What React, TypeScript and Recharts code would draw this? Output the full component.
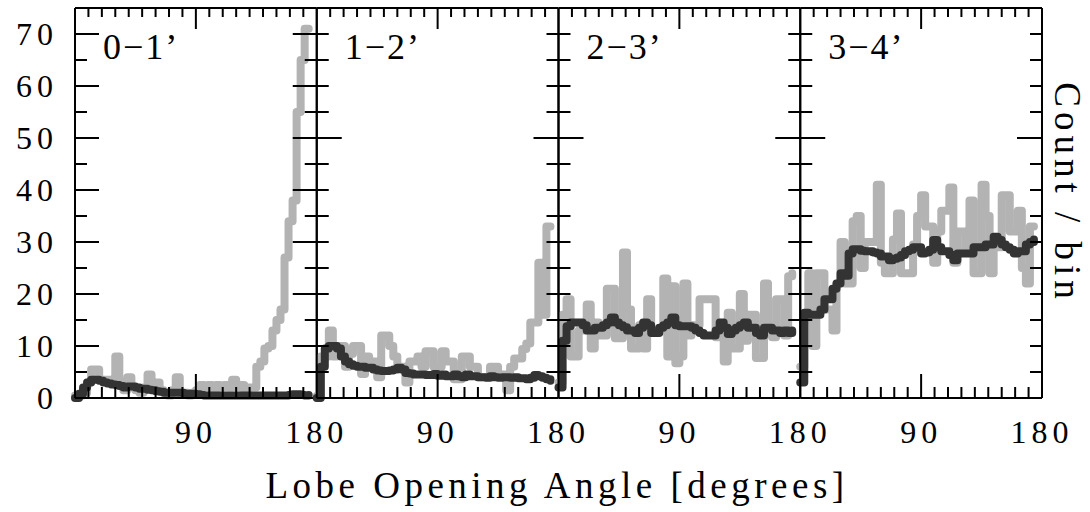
import React from "react";
import { LineChart, Line, XAxis, YAxis } from "recharts";

// bin start (degrees), 3 degree bins
const BIN_START = [
  0, 3, 6, 9, 12, 15, 18, 21, 24, 27, 30, 33, 36, 39, 42, 45, 48, 51, 54, 57,
  60, 63, 66, 69, 72, 75, 78, 81, 84, 87, 90, 93, 96, 99, 102, 105, 108, 111,
  114, 117, 120, 123, 126, 129, 132, 135, 138, 141, 144, 147, 150, 153, 156,
  159, 162, 165, 168, 171, 174,
];

const PANEL_NAMES = ["0\u22121\u2019", "1\u22122\u2019", "2\u22123\u2019", "3\u22124\u2019"];

// gray = raw histogram, dark = smoothed
const GRAY_0_1 = [
  0.5, 0.5, 1, 3, 5.5, 5.5, 3.5, 3.5, 3.5, 3, 8, 3, 1.5, 4, 2, 1.5, 1, 2, 4.5, 2,
  3, 1.5, 1, 0.5, 1.5, 4, 1, 1, 0.5, 1, 1.5, 2.5, 2, 2.5, 1.5, 2.5, 2, 2.5, 2, 3.5,
  2, 2.5, 1.5, 2, 2, 6, 7, 9.5, 10, 13, 15, 17, 27, 34, 38, 55, 65, 71, 71,
];
const DARK_0_1 = [
  0, 0.8, 2, 3, 3.5, 3.5, 3.3, 3, 2.8, 2.6, 2.5, 2.3, 2, 2.2, 2.2, 2, 1.8, 1.8, 1.6, 1.5,
  1.3, 1.2, 1, 1, 1, 1, 1, 0.8, 0.8, 0.8, 0.7, 0.6, 0.5, 0.5, 0.5, 0.5, 0.5, 0.5, 0.5, 0.5,
  0.5, 0.5, 0.5, 0.5, 0.5, 0.5, 0.5, 0.5, 0.5, 0.5, 0.5, 0.5, 0.5, 0.6, 0.7, 0.7, 0.6, 0.5, 0.6,
];
const GRAY_1_2 = [
  0.4, 8, 8, 13, 8, 10, 10, 6, 8.5, 10, 10, 4.6, 8, 7, 7, 4, 12, 12, 10, 8,
  6, 6, 3, 7, 7, 8, 6, 9, 9, 6, 6, 9, 7, 7, 3.6, 3.6, 8, 8, 6, 6,
  4, 4, 4, 6, 6, 4.5, 4.5, 1.5, 6, 7.6, 7.6, 9.4, 10.5, 14.5, 14.5, 26, 16, 33, 33,
];
const DARK_1_2 = [
  0, 6, 9.5, 10, 10, 9.5, 8, 7, 6.5, 6.2, 6, 6, 5.8, 5.8, 5.5, 5.3, 5.2, 5.2, 5.3, 5.5,
  5.8, 5.5, 4.8, 4.7, 4.5, 4.5, 4.5, 4.4, 4.4, 4.6, 4.3, 4.5, 4.2, 4.2, 4.5, 4.2, 4, 4.5, 4.2, 4.2,
  4, 4, 3.9, 4.2, 4, 3.9, 4, 4, 3.9, 4, 3.8, 3.8, 3.6, 3.9, 4.4, 4.2, 3.9, 3.6, 3.3,
];
const GRAY_2_3 = [
  3, 16, 19, 8, 8, 13, 13, 18, 9.5, 14.5, 12, 12, 21, 21, 11.5, 11.5, 28, 17, 9.5, 9.5,
  14, 9.5, 19, 12.5, 13, 13, 23, 8, 21.5, 6.7, 8, 22, 12, 14, 14, 19, 19, 19, 19, 11.7,
  11.7, 7, 16.4, 9.5, 9.5, 20, 11, 16, 16, 7.7, 7.7, 22, 12.7, 11.7, 19, 19, 12, 23.4, 24,
];
const DARK_2_3 = [
  2, 11, 13.8, 14.5, 14.5, 14.5, 14, 13, 13, 13.5, 13.5, 14, 14.5, 15.5, 14.5, 14, 13.6, 13, 13, 12.5,
  13.5, 14.5, 14, 12.5, 12.5, 13.5, 14, 14.5, 15.5, 14, 13.8, 13.8, 13.8, 13.5, 13, 12.5, 12, 12, 12, 13,
  14.5, 13.5, 12.3, 13, 13.5, 14, 14.5, 13.5, 13.5, 12.5, 12, 13.5, 13.5, 13, 13, 12.5, 13, 12.5, 13,
];
const GRAY_3_4 = [
  6, 15, 24, 10, 24, 24, 17, 17, 13, 22, 30, 22, 22, 34, 35, 25, 30, 30, 30, 41,
  26, 24, 24, 30.5, 35.5, 24, 24, 24, 29.5, 35, 39, 33, 33, 26, 32, 36, 36, 40.5, 26, 32,
  32, 28.5, 38, 24, 24, 41, 35, 24, 29, 29, 39, 39, 32, 32, 36, 25, 22, 33, 33,
];
const DARK_3_4 = [
  3, 16.4, 16, 16, 16, 17, 19, 19, 21, 22, 24, 23.5, 27.8, 28.6, 28.6, 28.3, 28.2, 28.2, 28, 27.8,
  27.2, 27.2, 26.5, 26.8, 27, 27.5, 28.2, 28.5, 29, 29, 27.8, 28, 28.5, 30.4, 29, 28.2, 28.2, 27.5, 26.5, 27.8,
  27.8, 27.8, 27.8, 29, 29, 29, 29.5, 29.5, 31, 30.4, 29.5, 29, 28.5, 27.8, 28.2, 28.2, 29.5, 30, 30.5,
];

const GRAY_SERIES = [GRAY_0_1, GRAY_1_2, GRAY_2_3, GRAY_3_4];
const DARK_SERIES = [DARK_0_1, DARK_1_2, DARK_2_3, DARK_3_4];

const X_TICKS = [10, 20, 30, 40, 50, 60, 70, 80, 90, 100, 110, 120, 130, 140, 150, 160, 170];
const X_MAJOR = [90];
const X_LABEL_TICKS = [90, 180];
const Y_TICKS = [5, 10, 15, 20, 25, 30, 35, 40, 45, 50, 55, 60, 65, 70];
const Y_LABEL_TICKS = [0, 10, 20, 30, 40, 50, 60, 70];
const Y_MAJOR_FIRST = [10, 20, 30, 40, 50, 60, 70];
const Y_MAJOR_OTHER = [50];

const FONT = "'Liberation Serif', serif";
const W = 1090;
const H = 512;
const PLOT_TOP = 8;
const PLOT_BOTTOM = 398;
const PLOT_LEFT = 75;
const PANEL_W = 241.75;
const XLAB_H = 40;
const YLAB_W = 60;

const axisStroke = { stroke: "#000", strokeWidth: 2 };

// inward tick marks, length depends on whether the value is a major tick
const inwardTick = (side: string, major: number[], minorLen: number, majorLen: number) => (props: any) => {
  const { x, y, payload } = props;
  const len = major.includes(payload.value) ? majorLen : minorLen;
  let x2 = x;
  let y2 = y;
  if (side === "bottom") y2 = y - len;
  if (side === "top") y2 = y + len;
  if (side === "left") x2 = x + len;
  if (side === "right") x2 = x - len;
  return <line x1={x} y1={y} x2={x2} y2={y2} stroke="#000" strokeWidth={2} />;
};

const Panel = ({ idx }: { idx: number }) => {
  const rows = BIN_START.map((x, i) => ({
    x,
    gray: GRAY_SERIES[idx][i],
    dark: DARK_SERIES[idx][i],
  }));
  const pl = PLOT_LEFT + idx * PANEL_W;
  const first = idx === 0;
  const yMajor = first ? Y_MAJOR_FIRST : Y_MAJOR_OTHER;
  const yMajorLen = first ? 24 : 25;
  return (
    <div style={{ position: "absolute", left: 0, top: 0 }}>
      <LineChart
        width={W}
        height={H}
        data={rows}
        margin={{
          top: PLOT_TOP,
          bottom: H - PLOT_BOTTOM - XLAB_H,
          left: pl - (first ? YLAB_W : 0),
          right: W - pl - PANEL_W,
        }}
      >
        <XAxis xAxisId="x" dataKey="x" type="number" domain={[0, 180]} orientation="bottom" mirror
          ticks={X_TICKS} interval={0} tickSize={0} tickMargin={0} tickLine={false} axisLine={axisStroke}
          tick={inwardTick("bottom", X_MAJOR, 11, 24)} />
        <XAxis xAxisId="xt" dataKey="x" type="number" domain={[0, 180]} orientation="top" mirror
          ticks={X_TICKS} interval={0} tickSize={0} tickMargin={0} tickLine={false} axisLine={axisStroke}
          tick={inwardTick("top", X_MAJOR, 9, 21)} />
        <XAxis xAxisId="xl" dataKey="x" type="number" domain={[0, 180]} orientation="bottom"
          height={XLAB_H} ticks={X_LABEL_TICKS} interval={0} tickSize={0} tickMargin={22}
          axisLine={false} tickLine={false}
          tick={{ fill: "#000", fontSize: 32, fontFamily: FONT, letterSpacing: 5 }} />

        <YAxis yAxisId="y" dataKey="dark" type="number" domain={[0, 75]} orientation="left" mirror
          ticks={Y_TICKS} interval={0} tickSize={0} tickMargin={0} tickLine={false} axisLine={axisStroke}
          tick={inwardTick("left", yMajor, 12, yMajorLen)} />
        <YAxis yAxisId="yr" dataKey="dark" type="number" domain={[0, 75]} orientation="right" mirror
          ticks={Y_TICKS} interval={0} tickSize={0} tickMargin={0} tickLine={false} axisLine={axisStroke}
          tick={inwardTick("right", yMajor, 12, yMajorLen)} />
        {first && (
          <YAxis yAxisId="yl" dataKey="dark" type="number" domain={[0, 75]} orientation="left" width={YLAB_W}
            ticks={Y_LABEL_TICKS} interval={0} tickSize={0} tickMargin={17} axisLine={false} tickLine={false}
            tick={{ fill: "#000", fontSize: 32, fontFamily: FONT, letterSpacing: 5 }} />
        )}

        <Line xAxisId="x" yAxisId="y" dataKey="gray" type="stepAfter" stroke="#b3b3b3" strokeWidth={8}
          strokeLinecap="round" strokeLinejoin="round" dot={false} isAnimationActive={false} />
        <Line xAxisId="x" yAxisId="y" dataKey="dark" type="stepAfter" stroke="#333333" strokeWidth={8}
          strokeLinecap="round" strokeLinejoin="round" dot={false} isAnimationActive={false} />
      </LineChart>
      <div
        style={{
          position: "absolute",
          left: pl + 28,
          top: 25,
          fontFamily: FONT,
          fontSize: 36,
          lineHeight: "44px",
          letterSpacing: 2,
          whiteSpace: "nowrap",
        }}
      >
        {PANEL_NAMES[idx]}
      </div>
    </div>
  );
};

export default function App() {
  return (
    <div style={{ position: "absolute", left: 0, top: 0, width: W, height: H, background: "#fff" }}>
      {[0, 1, 2, 3].map((i) => (
        <Panel key={i} idx={i} />
      ))}
      <div
        style={{
          position: "absolute",
          left: 0,
          width: 1114,
          top: 464,
          textAlign: "center",
          fontFamily: FONT,
          fontSize: 37,
          lineHeight: "44px",
          letterSpacing: 4.5,
          whiteSpace: "nowrap",
        }}
      >
        Lobe Opening Angle [degrees]
      </div>
      <div
        style={{
          position: "absolute",
          left: 1067,
          top: 193,
          transform: "translate(-50%, -50%) rotate(90deg)",
          fontFamily: FONT,
          fontSize: 37,
          lineHeight: "44px",
          letterSpacing: 5,
          whiteSpace: "nowrap",
        }}
      >
        Count / bin
      </div>
    </div>
  );
}
